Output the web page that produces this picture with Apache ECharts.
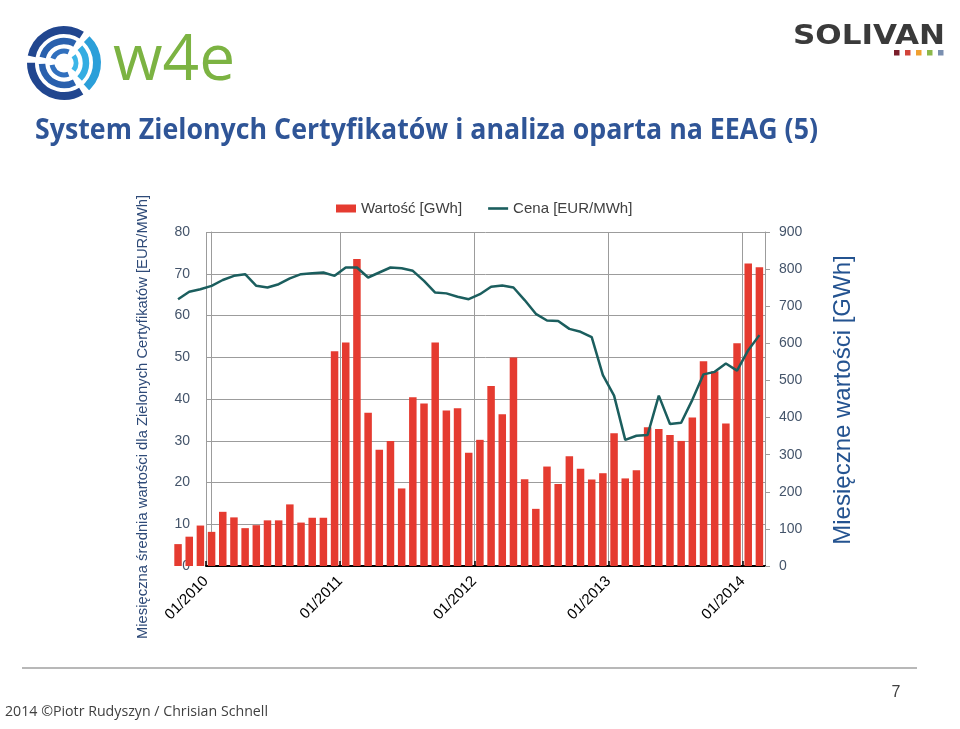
<!DOCTYPE html>
<html><head><meta charset="utf-8">
<script src="https://cdn.jsdelivr.net/npm/echarts@6/dist/echarts.min.js"></script>
<style>html,body{margin:0;padding:0;background:#fff}#c{width:960px;height:729px}</style>
</head><body><div id="c"></div>
<script>
// ---- data ----
const months = [
  '10/2009','11/2009','12/2009',
  '01/2010','02/2010','03/2010','04/2010','05/2010','06/2010','07/2010','08/2010','09/2010','10/2010','11/2010','12/2010',
  '01/2011','02/2011','03/2011','04/2011','05/2011','06/2011','07/2011','08/2011','09/2011','10/2011','11/2011','12/2011',
  '01/2012','02/2012','03/2012','04/2012','05/2012','06/2012','07/2012','08/2012','09/2012','10/2012','11/2012','12/2012',
  '01/2013','02/2013','03/2013','04/2013','05/2013','06/2013','07/2013','08/2013','09/2013','10/2013','11/2013','12/2013',
  '01/2014','02/2014'
];
const volumeGWh = [
  59,79,109,
  92,146,131,102,110,123,123,166,117,130,130,579,
  602,827,413,313,337,209,455,438,602,419,425,305,
  340,485,409,562,234,154,268,221,296,262,233,250,
  358,236,258,374,369,353,337,400,552,525,384,600,
  815,805
];
const priceEUR = [
  63.9,65.7,66.3,
  67.1,68.5,69.5,69.9,67.1,66.7,67.5,68.9,69.9,70.1,70.3,69.5,
  71.5,71.5,69.1,70.3,71.5,71.3,70.7,68.3,65.5,65.3,64.5,63.9,
  65.1,66.9,67.2,66.7,63.7,60.4,58.8,58.7,56.8,56.1,54.8,45.7,
  40.8,30.2,31.2,31.4,40.8,34.0,34.3,39.8,45.9,46.5,48.5,46.8,
  51.7,55.3
];
const yearLabels = ['01/2010','01/2011','01/2012','01/2013','01/2014'];
const leftTicks = {min:0, max:80, interval:10};
const rightTicks = {min:0, max:900, interval:100};

// month offset from 01/2010
function monthPos(s){ const [m,y] = s.split('/').map(Number); return (y-2010)*12 + (m-1); }
const barData = months.map((m,i)=>[monthPos(m), volumeGWh[i]]);
const lineData = months.map((m,i)=>[monthPos(m), priceEUR[i]]);
const firstPos = monthPos(months[0]);
const lastPos = monthPos(months[months.length-1]);

// layout
const W = 960, H = 729;
const plotLeft = 206, plotRight = 765, plotTop = 232, plotBottom = 566;
const cell = (plotRight - plotLeft) / (lastPos + 1);
const dataLeft = plotLeft + firstPos * cell;

// text width helper (for fitting substitute fonts)
const mctx = document.createElement('canvas').getContext('2d');
function fitScale(text, font, target){ mctx.font = font; return target / mctx.measureText(text).width; }

// ---- decorative logo arcs ----
const logo = [];
const cx = 64, cy = 63;
const rings = [
  {r:33, w:8, dark:'#21468f', light:'#2b9fd9'},
  {r:22, w:6.5, dark:'#2960ad', light:'#34ade2'},
  {r:12, w:5, dark:'#3170be', light:'#3cb6e8'}
];
const gaps = [-52, 53, 186].map(a=>a*Math.PI/180);
rings.forEach(rg=>{
  const g = 3.2/rg.r;
  const segs = [
    [gaps[1]+g, gaps[2]-g, rg.dark],
    [gaps[2]+g, gaps[0]+2*Math.PI-g, rg.dark],
    [gaps[0]+g, gaps[1]-g, rg.light]
  ];
  segs.forEach(s=>logo.push({type:'arc', shape:{cx:cx, cy:cy, r:rg.r, startAngle:s[0], endAngle:s[1], clockwise:true},
    style:{stroke:s[2], lineWidth:rg.w, fill:null}, silent:true}));
});
const sqColors = ['#7a1f2b','#d2443a','#f0a030','#8cb84a','#7a8fb0'];
const squares = sqColors.map((c,i)=>({type:'rect', shape:{x:894+i*11, y:50, width:5.5, height:5.5}, style:{fill:c}, silent:true}));

const titleText = 'System Zielonych Certyfikatów i analiza oparta na EEAG (5)';
const titleFont = 'bold 28px "Open Sans"';
const titleSX = fitScale(titleText, titleFont, 783);
const footText = '2014 ©Piotr Rudyszyn / Chrisian Schnell';
const footFont = '15px "Open Sans"';
const footSX = fitScale(footText, footFont, 263);
const solFont = 'bold 27px "DejaVu Sans"';
const solSX = fitScale('SOLIVAN', solFont, 152);

const chart = echarts.init(document.getElementById('c'), null, {renderer:'canvas'});
const axisLabelColor = '#44546a';
const gridLine = '#9c9c9c';
chart.setOption({
  backgroundColor:'#ffffff',
  animation:false,
  grid:[
    {left:plotLeft, right:W-plotRight, top:plotTop, bottom:H-plotBottom, containLabel:false},
    {left:dataLeft, right:W-plotRight, top:plotTop, bottom:H-plotBottom, containLabel:false}
  ],
  legend:{
    top:196, left:331, itemGap:26, itemWidth:20, itemHeight:8,
    textStyle:{fontFamily:'Liberation Sans', fontSize:15, color:'#404040'},
    data:[{name:'Wartość [GWh]', icon:'rect'},
          {name:'Cena [EUR/MWh]', icon:'path://M0,0H20V2.6H0Z', itemStyle:{color:'#1b5e5e'}}]
  },
  xAxis:[
    {type:'value', gridIndex:0, min:-0.5, max:lastPos+0.5, interval:12,
     axisLine:{show:true, lineStyle:{color:'#000', width:2}},
     axisTick:{show:true, inside:true, length:5, lineStyle:{color:'#000', width:1.5}},
     splitLine:{show:true, lineStyle:{color:gridLine, width:1}},
     axisLabel:{
       rotate:45, margin:13, color:'#000', fontFamily:'Liberation Sans', fontSize:15,
       showMaxLabel:false,
       formatter:function(v){ const k=(v+0.5)/12; const i=Math.round(k); return (Math.abs(k-i)<1e-6 && i>=0 && i<yearLabels.length) ? yearLabels[i] : ''; }
     }
    },
    {type:'value', gridIndex:1, min:firstPos-0.5, max:lastPos+0.5, show:false, splitLine:{show:false}}
  ],
  yAxis:[
    {type:'value', gridIndex:0, min:leftTicks.min, max:leftTicks.max, interval:leftTicks.interval, position:'left',
     axisLine:{show:true, lineStyle:{color:gridLine, width:1}},
     axisTick:{show:false},
     splitLine:{show:true, lineStyle:{color:gridLine, width:1}},
     axisLabel:{margin:16, color:axisLabelColor, fontFamily:'Liberation Sans', fontSize:14}
    },
    {type:'value', gridIndex:0, min:rightTicks.min, max:rightTicks.max, interval:rightTicks.interval, position:'right',
     axisLine:{show:true, lineStyle:{color:gridLine, width:1}},
     axisTick:{show:true, length:5, lineStyle:{color:gridLine}},
     splitLine:{show:false},
     axisLabel:{margin:14, color:axisLabelColor, fontFamily:'Liberation Sans', fontSize:14}
    },
    {type:'value', gridIndex:1, min:leftTicks.min, max:leftTicks.max, show:false, splitLine:{show:false}},
    {type:'value', gridIndex:1, min:rightTicks.min, max:rightTicks.max, show:false, splitLine:{show:false}}
  ],
  series:[
    {type:'bar', name:'Wartość [GWh]', xAxisIndex:1, yAxisIndex:3, data:barData, barWidth:7.5,
     itemStyle:{color:'#e53b30'}},
    {type:'line', name:'Cena [EUR/MWh]', xAxisIndex:1, yAxisIndex:2, data:lineData, symbol:'none',
     lineStyle:{color:'#1b5e5e', width:2.5}, itemStyle:{color:'#1b5e5e'}}
  ],
  graphic:[].concat(logo, squares, [
    {type:'text', x:113, y:62, silent:true, style:{text:'w4e', font:'64px "Open Sans"', fill:'#7cb342', align:'left', verticalAlign:'middle'}},
    {type:'text', x:869, y:37, scaleX:solSX, silent:true, style:{text:'SOLIVAN', font:solFont, fill:'#3a3a3a', align:'center', verticalAlign:'middle'}},
    {type:'text', x:35, y:131, scaleX:titleSX, silent:true, style:{text:titleText, font:titleFont, fill:'#2f5597', align:'left', verticalAlign:'middle'}},
    {type:'text', x:143, y:417, rotation:Math.PI/2, silent:true, style:{text:'Miesięczna średnia wartości dla Zielonych Certyfikatów [EUR/MWh]', font:'14.8px "Liberation Sans"', fill:'#2e4a78', align:'center', verticalAlign:'middle'}},
    {type:'text', x:843, y:400, rotation:Math.PI/2, silent:true, style:{text:'Miesięczne wartości [GWh]', font:'24px "Liberation Sans"', fill:'#245390', align:'center', verticalAlign:'middle'}},
    {type:'line', silent:true, shape:{x1:22, y1:668, x2:917, y2:668}, style:{stroke:'#a0a0a0', lineWidth:1.5}},
    {type:'text', x:5, y:712, scaleX:footSX, silent:true, style:{text:footText, font:footFont, fill:'#404040', align:'left', verticalAlign:'middle'}},
    {type:'text', x:896, y:693, silent:true, style:{text:'7', font:'16px "Liberation Sans"', fill:'#404040', align:'center', verticalAlign:'middle'}}
  ])
});
</script>
</body></html>
